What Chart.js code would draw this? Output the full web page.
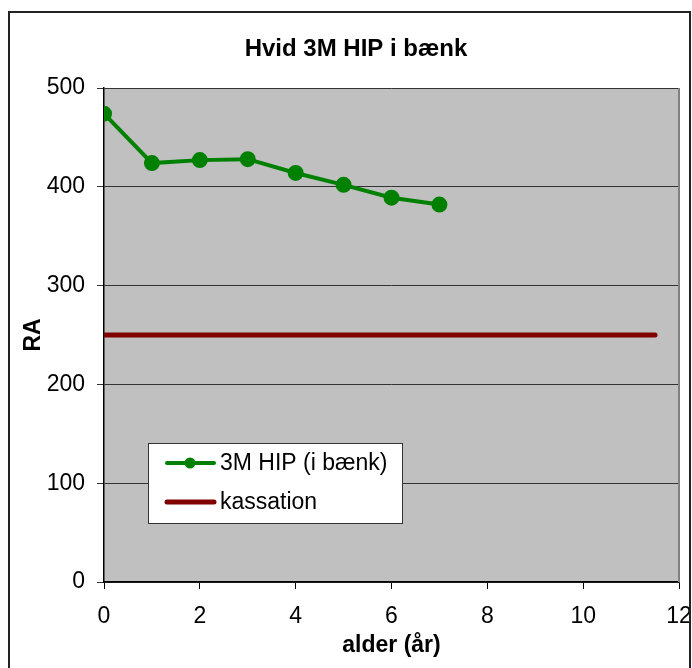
<!DOCTYPE html>
<html>
<head>
<meta charset="utf-8">
<script src="https://cdn.jsdelivr.net/npm/chart.js@4/dist/chart.umd.min.js"></script>
<style>
  html, body { margin: 0; padding: 0; background: #fff; }
  #wrap { width: 692px; height: 668px; position: relative; }
</style>
</head>
<body>
<div id="wrap"><canvas id="chart" width="692" height="668"></canvas></div>
<script>
// Data
const chartTitle = 'Hvid 3M HIP i bænk';
const xTitle = 'alder (år)';
const yTitle = 'RA';

const ageYears = [0, 1, 2, 3, 4, 5, 6, 7];
const raValues = [474, 424, 427, 428, 414, 402, 389, 382];
const hipLabel = '3M HIP (i bænk)';

const kassationX = [0, 11.5];
const kassationY = [250, 250];
const kassationLabel = 'kassation';

const xMin = 0, xMax = 12, xStep = 2;
const yMin = 0, yMax = 500, yStep = 100;

const FONT = 'Arial, "Liberation Sans", Helvetica, sans-serif';

// Background, plot fill, outer frame, title and the legend box
const decor = {
    id: 'decor',
    beforeDraw(chart) {
        const { ctx, chartArea: a } = chart;
        ctx.save();
        ctx.fillStyle = '#fff';
        ctx.fillRect(0, 0, chart.width, chart.height);
        ctx.fillStyle = '#c0c0c0';
        ctx.fillRect(a.left, a.top, a.right - a.left, a.bottom - a.top);
        ctx.restore();
    },
    afterDraw(chart) {
        const { ctx, chartArea: a } = chart;
        ctx.save();
        // plot right border
        ctx.strokeStyle = '#808080';
        ctx.lineWidth = 2;
        ctx.beginPath();
        ctx.moveTo(a.right, a.top);
        ctx.lineTo(a.right, a.bottom);
        ctx.stroke();

        // outer frame
        ctx.strokeStyle = '#222';
        ctx.lineWidth = 2;
        ctx.strokeRect(9, 12, 681, 700);

        // title
        ctx.fillStyle = '#000';
        ctx.font = 'bold 24px ' + FONT;
        ctx.textAlign = 'center';
        ctx.textBaseline = 'middle';
        ctx.fillText(chartTitle, 356, 49);

        // legend
        const lx = 148, ly = 443, lw = 254, lh = 80;
        ctx.fillStyle = '#fff';
        ctx.fillRect(lx, ly, lw, lh);
        ctx.strokeStyle = '#333';
        ctx.lineWidth = 1;
        ctx.strokeRect(lx + 0.5, ly + 0.5, lw, lh);

        const rows = [463, 502];
        chart.data.datasets.forEach((ds, i) => {
            const y = rows[i];
            ctx.strokeStyle = ds.borderColor;
            ctx.lineWidth = ds.borderWidth;
            ctx.lineCap = 'round';
            ctx.beginPath();
            ctx.moveTo(167, y);
            ctx.lineTo(214, y);
            ctx.stroke();
            if (ds.pointRadius > 0) {
                ctx.fillStyle = ds.pointBackgroundColor;
                ctx.beginPath();
                ctx.arc(190, y, 5.5, 0, Math.PI * 2);
                ctx.fill();
            }
            ctx.fillStyle = '#000';
            ctx.font = '23px ' + FONT;
            ctx.textAlign = 'left';
            ctx.textBaseline = 'middle';
            ctx.fillText(ds.label, 220, y + 1);
        });
        ctx.restore();
    }
};

const hipPoints = ageYears.map((x, i) => ({ x: x, y: raValues[i] }));
const kassationPoints = kassationX.map((x, i) => ({ x: x, y: kassationY[i] }));

new Chart(document.getElementById('chart'), {
    type: 'line',
    data: {
        datasets: [{
            label: hipLabel,
            data: hipPoints,
            borderColor: '#008000',
            backgroundColor: '#008000',
            pointBackgroundColor: '#008000',
            pointBorderColor: '#008000',
            borderWidth: 4,
            pointRadius: 6,
            tension: 0
        }, {
            label: kassationLabel,
            data: kassationPoints,
            borderColor: '#800000',
            backgroundColor: '#800000',
            borderWidth: 5,
            borderCapStyle: 'round',
            pointRadius: 0,
            tension: 0
        }]
    },
    options: {
        responsive: false,
        animation: false,
        layout: { padding: { left: 0, top: 88, right: 13, bottom: 0 } },
        plugins: {
            legend: { display: false },
            title: { display: false },
            tooltip: { enabled: false }
        },
        scales: {
            x: {
                type: 'linear',
                min: xMin,
                max: xMax,
                afterFit: s => { s.height = 86; s.paddingLeft = 0; s.paddingRight = 0; },
                ticks: {
                    stepSize: xStep,
                    color: '#000',
                    padding: 14,
                    maxRotation: 0,
                    font: { family: FONT, size: 23 }
                },
                grid: { drawOnChartArea: false, tickLength: 7, color: '#000' },
                border: { color: '#000', width: 1.5 },
                title: {
                    display: true,
                    text: xTitle,
                    color: '#000',
                    padding: { top: 0, bottom: 9 },
                    font: { family: FONT, size: 23, weight: 'bold' }
                }
            },
            y: {
                min: yMin,
                max: yMax,
                afterFit: s => { s.width = 104; },
                ticks: {
                    stepSize: yStep,
                    color: '#000',
                    padding: 12,
                    font: { family: FONT, size: 23 }
                },
                grid: { color: '#333', lineWidth: 1, tickLength: 7 },
                border: { color: '#000', width: 1.5 },
                title: {
                    display: true,
                    text: yTitle,
                    color: '#000',
                    padding: { top: 20, bottom: 0 },
                    font: { family: FONT, size: 23, weight: 'bold' }
                }
            }
        }
    },
    plugins: [decor]
});
</script>
</body>
</html>
